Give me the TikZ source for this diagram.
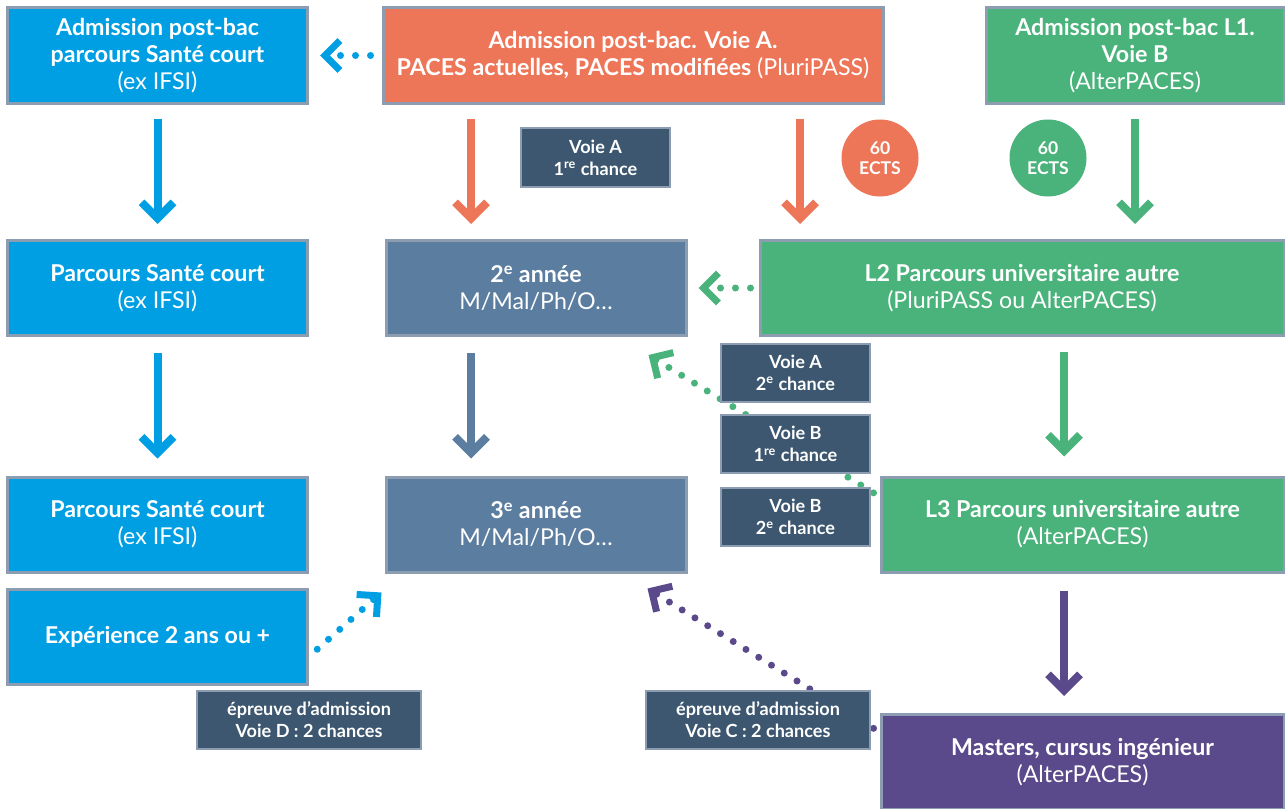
\documentclass[tikz,border=0pt]{standalone}
\usepackage{fontspec}
\setmainfont{Lato}
\usetikzlibrary{arrows.meta,calc}
\definecolor{cblue}{HTML}{009FE3}
\definecolor{corange}{HTML}{EE7658}
\definecolor{cgreen}{HTML}{4AB37B}
\definecolor{cslate}{HTML}{5B7DA0}
\definecolor{cdark}{HTML}{3C576F}
\definecolor{cpurple}{HTML}{5A4A8B}
\definecolor{cedge}{HTML}{8C9DB2}
\begin{document}
\begin{tikzpicture}[x=0.2mm,y=-0.2mm]
\tikzstyle{every node}=[draw=cedge,line width=0.6mm,text=white,align=center,inner sep=0pt]
\tikzstyle{big}=[rectangle,minimum height=19mm,font=\fontsize{13.2}{15.4}\selectfont]
\tikzstyle{tag}=[rectangle,fill=cdark,line width=0.4mm,minimum width=29.8mm,minimum height=11.6mm,font=\bfseries\fontsize{10.3}{12.5}\selectfont]
\tikzstyle{ects}=[circle,draw=none,minimum size=15.4mm,font=\bfseries\fontsize{10}{11}\selectfont]
\tikzstyle{down}=[line width=1.6mm,-{Straight Barb[length=3.2mm,width=6.4mm]}]
\tikzstyle{dots}=[line width=1.4mm,line cap=round,dash pattern=on 0pt off 3mm,-{Straight Barb[length=3mm,width=6mm]}]
\useasboundingbox (0,0) rectangle (1285,808);

\node[big,fill=cblue,minimum width=60mm](b1) at (157.5,55.5) {\textbf{Admission post-bac}\\\textbf{parcours Santé court}\\(ex IFSI)};
\node[big,fill=corange,minimum width=100mm](o1) at (633,55.5) {\textbf{Admission post-bac. Voie A.}\\\textbf{PACES actuelles, PACES modifiées} (PluriPASS)};
\node[big,fill=cgreen,minimum width=59.6mm](g1) at (1135,55.5) {\textbf{Admission post-bac L1.}\\\textbf{Voie B}\\(AlterPACES)};
\node[big,fill=cblue,minimum width=60mm](b2) at (157.5,288) {\textbf{Parcours Santé court}\\(ex IFSI)};
\node[big,fill=cslate,minimum width=60mm](s2) at (536,288) {\textbf{2\textsuperscript{e} année}\\M/Mal/Ph/O\ldots};
\node[big,fill=cgreen,minimum width=104.8mm](g2) at (1022,288) {\textbf{L2 Parcours universitaire autre}\\(PluriPASS ou AlterPACES)};
\node[big,fill=cblue,minimum width=60mm](b3) at (157.5,524.5) {\textbf{Parcours Santé court}\\(ex IFSI)};
\node[big,fill=cslate,minimum width=60mm](s3) at (536,524.5) {\textbf{3\textsuperscript{e} année}\\M/Mal/Ph/O\ldots};
\node[big,fill=cgreen,minimum width=80.6mm](g3) at (1082.5,524.5) {\textbf{L3 Parcours universitaire autre}\\(AlterPACES)};
\node[big,fill=cblue,minimum width=60mm](b4) at (157.5,636.5) {\textbf{Expérience 2 ans ou +}};
\node[big,fill=cpurple,minimum width=80.6mm](p4) at (1082.5,762) {\textbf{Masters, cursus ingénieur}\\(AlterPACES)};

\coordinate (colA) at (471,0);
\coordinate (colB) at (800,0);
\coordinate (colC) at (1064,0);

\draw[down,cblue,shorten <=2.8mm,shorten >=3mm] (b1.south) -- (b2.north);
\draw[down,cblue,shorten <=3.2mm,shorten >=3.4mm] (b2.south) -- (b3.north);
\draw[down,corange,shorten <=2.8mm,shorten >=3mm] (o1.south -| colA) -- (s2.north -| colA);
\draw[down,corange,shorten <=2.8mm,shorten >=3mm] (o1.south -| colB) -- (g2.north -| colB);
\draw[down,cgreen,shorten <=2.8mm,shorten >=3mm] (g1.south) -- (g1.south |- g2.north);
\draw[down,cslate,shorten <=3.2mm,shorten >=3.4mm] (s2.south -| colA) -- (s3.north -| colA);
\draw[down,cgreen,shorten <=3mm,shorten >=3.8mm] (g2.south -| colC) -- (g3.north -| colC);
\draw[down,cpurple,shorten <=3.4mm,shorten >=3.4mm] (g3.south -| colC) -- (p4.north -| colC);

\draw[dots,cblue,shorten <=2.2mm,shorten >=2.2mm] (o1.west) -- (b1.east);
\draw[dots,cgreen,shorten <=1.6mm,shorten >=2.2mm] (g2.west) -- (s2.east);
\draw[dots,cgreen,shorten <=1.4mm] ($(g3.north west)+(0,21)$) -- ($(s2.south east)+(-39,18)$);
\draw[dots,cblue,shorten <=2.2mm] ($(b4.east)+(0,20)$) -- ($(s3.south west)+(-3,19)$);
\draw[dots,cpurple,shorten <=1.4mm] ($(p4.north west)+(0,19)$) -- ($(s3.south east)+(-40,15)$);

\node[tag](v1) at (595.5,157.5) {Voie A\\1\textsuperscript{re} chance};
\node[tag](v2) at (795.5,372.5) {Voie A\\2\textsuperscript{e} chance};
\node[tag](v3) at (795.5,444) {Voie B\\1\textsuperscript{re} chance};
\node[tag](v4) at (795.5,517) {Voie B\\2\textsuperscript{e} chance};
\node[tag,minimum width=44.8mm](e1) at (309,720) {épreuve d’admission\\Voie D : 2 chances};
\node[tag,minimum width=44.8mm](e2) at (758,720) {épreuve d’admission\\Voie C : 2 chances};
\node[ects,fill=corange](c1) at (880,158) {60\\ECTS};
\node[ects,fill=cgreen](c2) at (1048,158) {60\\ECTS};
\end{tikzpicture}
\end{document}
